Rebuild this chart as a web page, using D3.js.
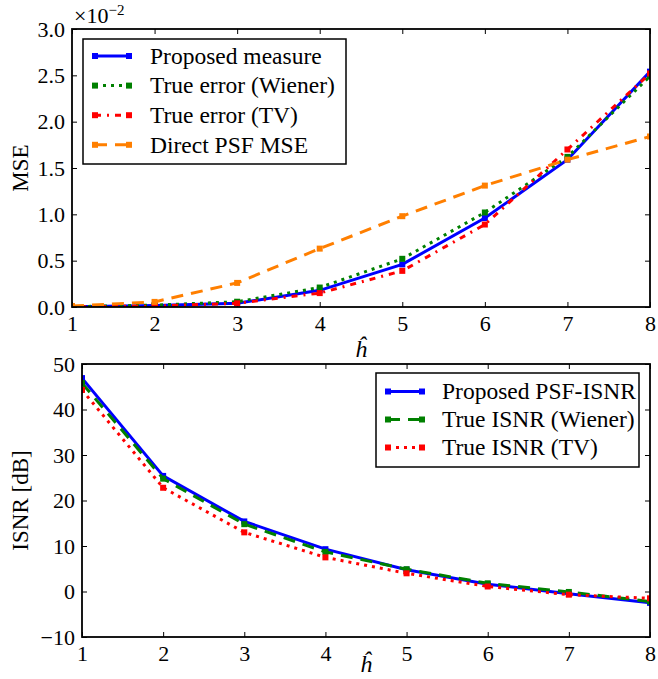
<!DOCTYPE html>
<html lang="en">
<head>
<meta charset="UTF-8">
<title>MSE and ISNR vs h</title>
<script src="https://d3js.org/d3.v7.min.js"></script>
<style>
  body { margin: 0; background: #fff; }
  text { font-family: "Liberation Serif", "DejaVu Serif", serif; fill: #000; }
</style>
</head>
<body>
<script>

// data
var hValues = [1, 2, 3, 4, 5, 6, 7, 8];

// top panel (MSE, real units)
var mseProposed = [0.00003, 0.00015, 0.0004, 0.0018, 0.0046, 0.0096, 0.0159, 0.0254];
var mseWiener   = [0.00003, 0.0002,  0.00057, 0.0021, 0.0052, 0.0102, 0.0162, 0.0249];
var mseTV       = [0.00002, 0.0001,  0.0004, 0.0015, 0.0039, 0.0089, 0.0170, 0.0252];
var msePSF      = [0.0001,  0.00055, 0.0026, 0.0063, 0.0098, 0.0131, 0.0159, 0.0184];
var mseTicks = [0, 0.005, 0.01, 0.015, 0.02, 0.025, 0.03];

// bottom panel (ISNR in dB)
var isnrProposed = [46.9, 25.4, 15.4, 9.3, 4.8, 1.6, -0.5, -2.5];
var isnrWiener   = [45.8, 24.8, 14.8, 8.7, 4.9, 1.8, -0.1, -2.2];
var isnrTV       = [44.3, 22.8, 13.0, 7.5, 4.0, 1.1, -0.7, -1.5];
var isnrTicks = [-10, 0, 10, 20, 30, 40, 50];

var W = 658, H = 679;
var svg = d3.select("body").append("svg")
    .attr("width", W)
    .attr("height", H);

var tickFont = 22;
var legendFont = 23.5;

function drawPanel(cfg) {
  var x = d3.scaleLinear().domain([1, 8]).range([cfg.left, cfg.right]);
  var y = d3.scaleLinear().domain(cfg.yDomain).range([cfg.bottom, cfg.top]);

  var g = svg.append("g");
  var clipId = "clip" + cfg.id;
  svg.append("defs").append("clipPath").attr("id", clipId)
    .append("rect")
      .attr("x", cfg.left).attr("y", cfg.top)
      .attr("width", cfg.right - cfg.left).attr("height", cfg.bottom - cfg.top);

  // axes with inward ticks
  var bottomAxis = g.append("g")
      .attr("transform", "translate(0," + cfg.bottom + ")")
      .call(d3.axisBottom(x).tickValues(hValues).tickSize(-5).tickPadding(8)
        .tickFormat(d3.format("d")));
  var topAxis = g.append("g")
      .attr("transform", "translate(0," + cfg.top + ")")
      .call(d3.axisTop(x).tickValues(hValues).tickSize(-5).tickFormat(""));
  var leftAxis = g.append("g")
      .attr("transform", "translate(" + cfg.left + ",0)")
      .call(d3.axisLeft(y).tickValues(cfg.yTicks).tickSize(-5).tickPadding(7)
        .tickFormat(cfg.yFormat));
  var rightAxis = g.append("g")
      .attr("transform", "translate(" + cfg.right + ",0)")
      .call(d3.axisRight(y).tickValues(cfg.yTicks).tickSize(-5).tickFormat(""));

  [bottomAxis, topAxis, leftAxis, rightAxis].forEach(function(a) {
    a.select(".domain").remove();
    a.selectAll(".tick line").attr("stroke", "#000").attr("stroke-width", 1);
    a.selectAll("text")
      .attr("font-family", "Liberation Serif, DejaVu Serif, serif")
      .attr("font-size", tickFont)
      .attr("fill", "#222");
  });

  // series lines
  var line = d3.line()
      .x(function(d, i) { return x(hValues[i]); })
      .y(function(d) { return y(d); });

  var plot = g.append("g").attr("clip-path", "url(#" + clipId + ")");
  cfg.series.forEach(function(s) {
    plot.append("path")
      .datum(s.values)
      .attr("fill", "none")
      .attr("stroke", s.color)
      .attr("stroke-width", 3)
      .attr("stroke-dasharray", s.dash)
      .attr("d", line);
    plot.selectAll(null)
      .data(s.values)
      .enter().append("rect")
        .attr("x", function(d, i) { return x(hValues[i]) - 3; })
        .attr("y", function(d) { return y(d) - 3; })
        .attr("width", 6)
        .attr("height", 6)
        .attr("fill", s.color);
  });

  // frame
  g.append("rect")
    .attr("x", cfg.left).attr("y", cfg.top)
    .attr("width", cfg.right - cfg.left).attr("height", cfg.bottom - cfg.top)
    .attr("fill", "none").attr("stroke", "#000").attr("stroke-width", 1.8);

  // legend
  var lg = cfg.legend;
  g.append("rect")
    .attr("x", lg.x).attr("y", lg.y)
    .attr("width", lg.w).attr("height", lg.h)
    .attr("fill", "#fff").attr("stroke", "#000").attr("stroke-width", 1.5);
  cfg.series.forEach(function(s, i) {
    var yy = lg.y + lg.first + i * lg.step;
    var x1 = lg.x + 12, x2 = lg.x + 46;
    g.append("line")
      .attr("x1", x1).attr("x2", x2).attr("y1", yy).attr("y2", yy)
      .attr("stroke", s.color).attr("stroke-width", 3)
      .attr("stroke-dasharray", s.dash);
    [x1, x2].forEach(function(px) {
      g.append("rect")
        .attr("x", px - 3).attr("y", yy - 3)
        .attr("width", 6).attr("height", 6)
        .attr("fill", s.color);
    });
    g.append("text")
      .attr("x", lg.x + lg.textOff)
      .attr("y", yy)
      .attr("dy", "0.33em")
      .attr("font-size", legendFont)
      .text(s.name);
  });

  // axis labels
  g.append("text")
    .attr("transform", "translate(" + cfg.yLabelX + "," + ((cfg.top + cfg.bottom) / 2) + ") rotate(-90)")
    .attr("text-anchor", "middle")
    .attr("font-size", 23)
    .text(cfg.yLabel);
  g.append("text")
    .attr("x", (cfg.left + cfg.right) / 2)
    .attr("y", cfg.xLabelY)
    .attr("text-anchor", "middle")
    .attr("font-size", 24)
    .attr("font-style", "italic")
    .text("\u0125");

  return g;
}

var topPanel = drawPanel({
  id: "a",
  left: 72, right: 650, top: 29, bottom: 307,
  yDomain: [0, 0.03],
  yTicks: mseTicks,
  yFormat: function(d) { return (d * 100).toFixed(1); },
  yLabel: "MSE", yLabelX: 28,
  xLabelY: 357,
  series: [
    {name: "Proposed measure", values: mseProposed, color: "#0000ff", dash: null},
    {name: "True error (Wiener)", values: mseWiener, color: "#008000", dash: "3,5"},
    {name: "True error (TV)", values: mseTV, color: "#ff0000", dash: "6,6,2,6"},
    {name: "Direct PSF MSE", values: msePSF, color: "#ff7f00", dash: "12,8"}
  ],
  legend: {x: 83, y: 39, w: 263, h: 125, first: 17, step: 29.6, textOff: 67}
});

// x10^-2 offset label
var off = topPanel.append("text").attr("x", 74).attr("y", 23).attr("font-size", 22).attr("fill", "#222");
off.append("tspan").text("\u00d710");
off.append("tspan").attr("dy", -8).attr("font-size", 15).text("\u22122");

drawPanel({
  id: "b",
  left: 82, right: 650, top: 364, bottom: 637,
  yDomain: [-10, 50],
  yTicks: isnrTicks,
  yFormat: function(d) { return d < 0 ? "\u2212" + Math.abs(d) : String(d); },
  yLabel: "ISNR [dB]", yLabelX: 28,
  xLabelY: 672,
  series: [
    {name: "Proposed PSF-ISNR", values: isnrProposed, color: "#0000ff", dash: null},
    {name: "True ISNR (Wiener)", values: isnrWiener, color: "#008000", dash: "12,8"},
    {name: "True ISNR (TV)", values: isnrTV, color: "#ff0000", dash: "3,5"}
  ],
  legend: {x: 376, y: 373, w: 263, h: 94, first: 18.5, step: 28, textOff: 66}
});

</script>
</body>
</html>
